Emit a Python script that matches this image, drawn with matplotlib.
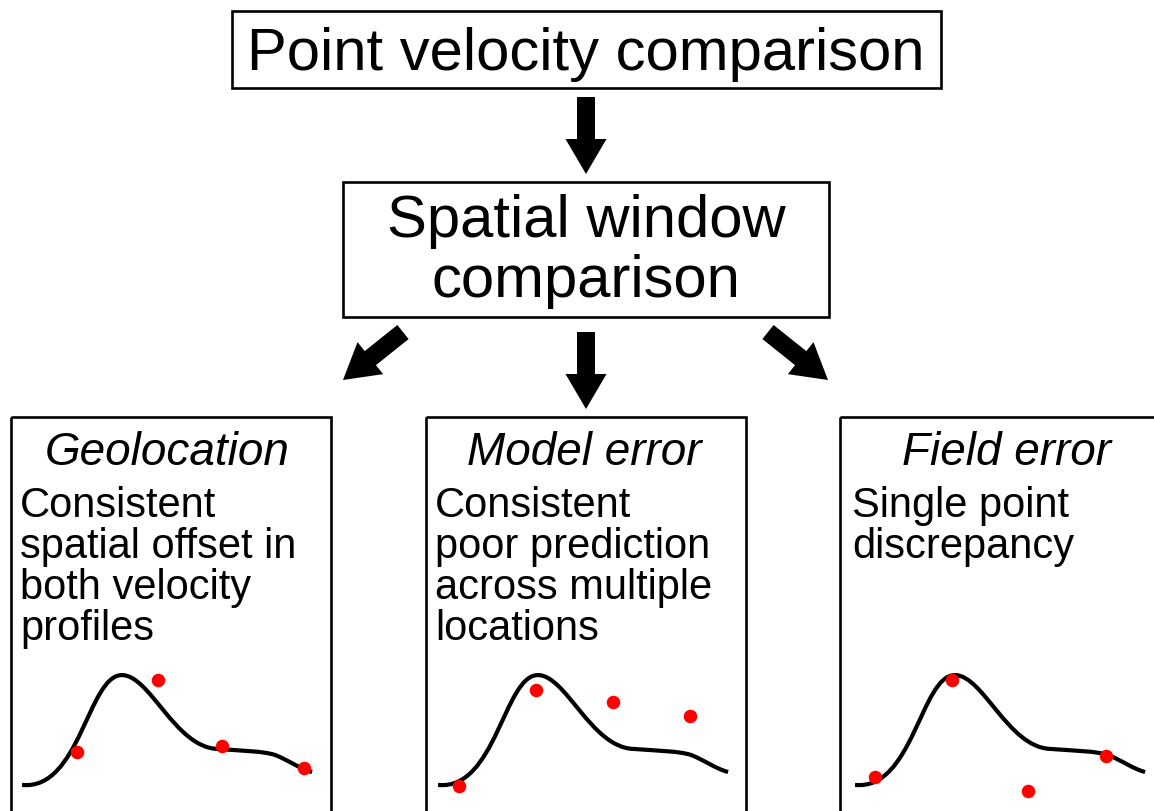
import matplotlib
matplotlib.use("Agg")
import matplotlib.pyplot as plt
from matplotlib.patches import Rectangle, FancyArrow, PathPatch
from matplotlib.path import Path

plt.rcParams["font.family"] = ["Liberation Sans", "DejaVu Sans"]

W, H = 1154, 812

# flow chart text
top_label = "Point velocity comparison"
mid_lines = ["Spatial window", "comparison"]
panel_titles = ["Geolocation", "Model error", "Field error"]
panel_body = [
    ["Consistent", "spatial offset in", "both velocity", "profiles"],
    ["Consistent", "poor prediction", "across multiple", "locations"],
    ["Single point", "discrepancy"],
]

# schematic velocity profile (bezier control points, distance vs velocity)
profile_x = [0, 1.93, 2.2, 3.33, 4.27, 5.1, 6.5, 7.43, 8.0, 8.43, 8.93, 9.27, 9.67]
profile_v = [0.47, 0.27, 4.13, 4.13, 4.13, 1.73, 1.67, 1.6, 1.6, 1.47, 1.27, 1.0, 0.9]

# observed point velocities in each panel
geo_x = [1.83, 4.53, 6.67, 9.4]
geo_v = [1.57, 3.97, 1.77, 1.03]
model_x = [0.7, 3.27, 5.83, 8.4]
model_v = [0.43, 3.63, 3.23, 2.77]
field_x = [0.67, 3.23, 5.77, 8.37]
field_v = [0.73, 3.97, 0.27, 1.43]
points = [(geo_x, geo_v), (model_x, model_v), (field_x, field_v)]

fig = plt.figure(figsize=(W / 100, H / 100), dpi=100)
ax = fig.add_axes([0, 0, 1, 1])
ax.set_xlim(0, W)
ax.set_ylim(H, 0)
ax.axis("off")

box_lw = 1.9

# top box
ax.add_patch(Rectangle((232, 12), 709, 77, fill=False, lw=box_lw, ec="black"))
ax.text(586, 70, top_label, fontsize=43, ha="center", va="baseline")

# middle box
ax.add_patch(Rectangle((343, 183), 486, 135, fill=False, lw=box_lw, ec="black"))
ax.text(586, 237, mid_lines[0], fontsize=43, ha="center", va="baseline")
ax.text(586, 297, mid_lines[1], fontsize=43, ha="center", va="baseline")

# arrows
arrow_kw = dict(width=18, head_width=41, head_length=35, length_includes_head=True,
                color="black", lw=0)
ax.add_patch(FancyArrow(586, 98, 0, 77, **arrow_kw))
ax.add_patch(FancyArrow(586, 333, 0, 77, **arrow_kw))
ax.add_patch(FancyArrow(403, 333, -60, 48, **arrow_kw))
ax.add_patch(FancyArrow(768, 333, 60, 48, **arrow_kw))

# bottom panels
box_left = [11, 426, 840]
title_cx = [167, 584, 1006]
text_left = [20, 435, 852]
curve_left = [22, 438, 855]
body_base = [517, 558, 599, 640]

codes = [Path.MOVETO] + [Path.CURVE4] * (len(profile_x) - 1)
for i in range(3):
    ax.add_patch(Rectangle((box_left[i], 418), 320, 430, fill=False, lw=box_lw, ec="black"))
    ax.text(title_cx[i], 465, panel_titles[i], fontsize=33, style="italic",
            ha="center", va="baseline")
    for j, line in enumerate(panel_body[i]):
        ax.text(text_left[i], body_base[j], line, fontsize=30, ha="left", va="baseline")

    pax = fig.add_axes([curve_left[i] / W, 1 - 800 / H, 300 / W, 135 / H])
    pax.set_xlim(0, 10)
    pax.set_ylim(0, 4.5)
    pax.axis("off")
    pax.patch.set_alpha(0)
    path = Path(list(zip(profile_x, profile_v)), codes)
    pax.add_patch(PathPatch(path, fill=False, lw=3, ec="black", capstyle="butt"))
    px, pv = points[i]
    pax.scatter(px, pv, s=95, color="#ff0000", zorder=3, clip_on=False, linewidths=0)

fig.savefig("out.png", dpi=100)
